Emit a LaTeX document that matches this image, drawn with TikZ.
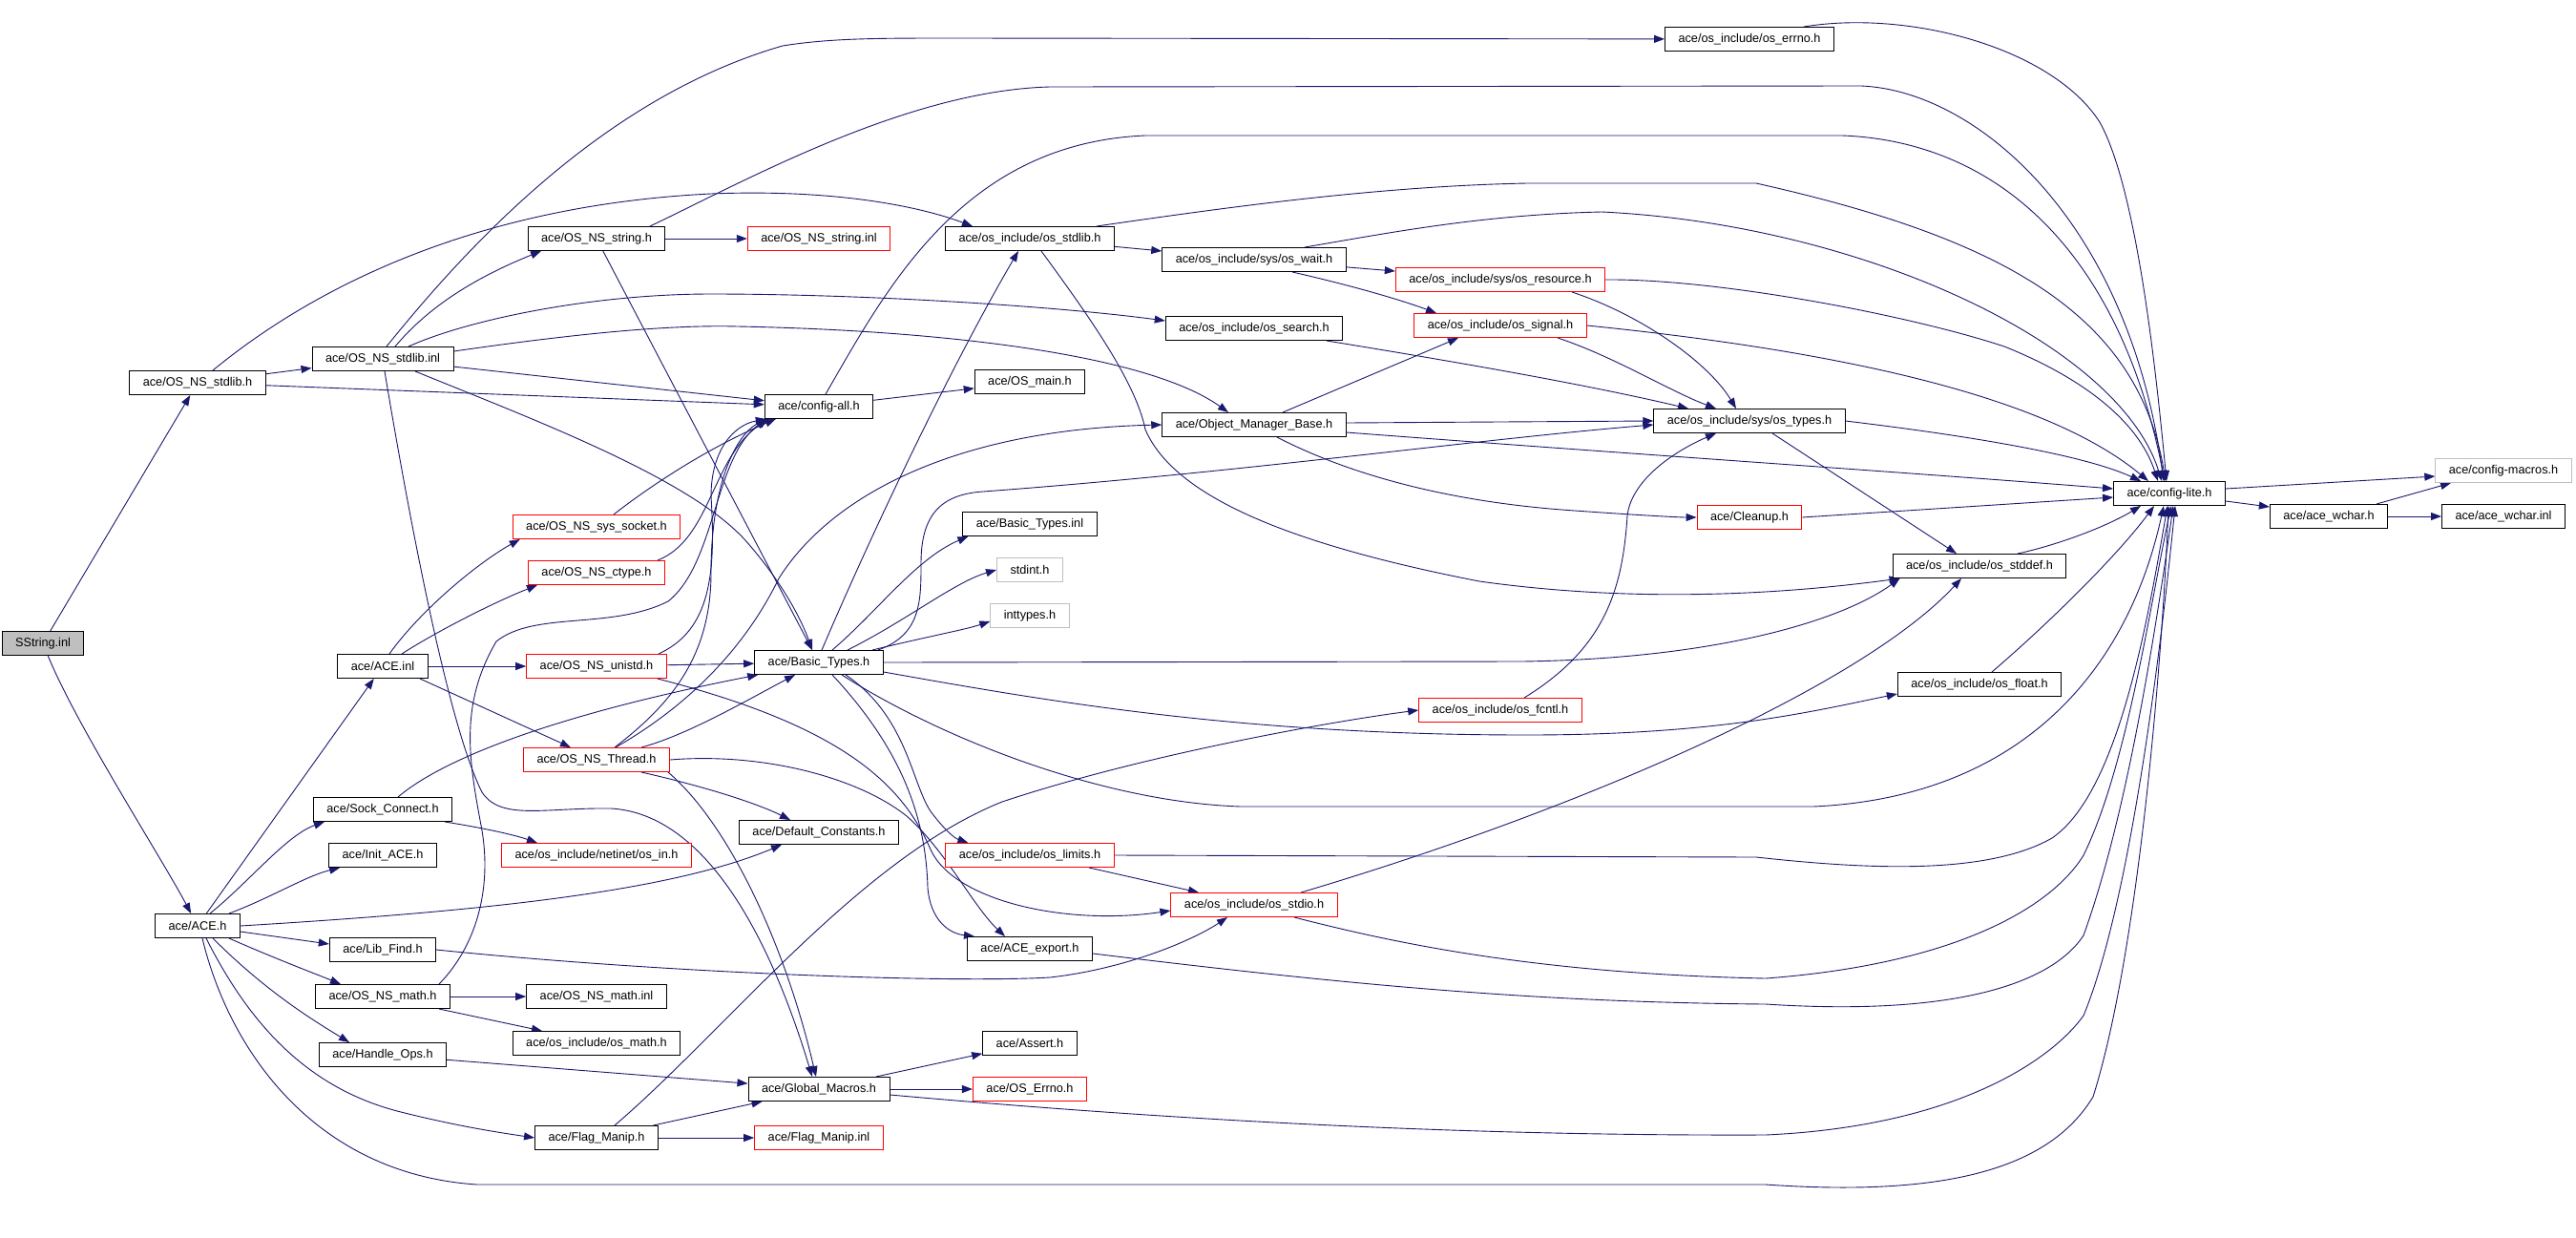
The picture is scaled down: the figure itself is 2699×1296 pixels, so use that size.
\documentclass[tikz,border=0pt]{standalone}
\usepackage{fontspec}
\setmainfont{Liberation Sans}
\usetikzlibrary{arrows.meta}
\definecolor{edgeblue}{RGB}{25,25,112}
\definecolor{boxgray}{RGB}{191,191,191}
\pgfdeclarelayer{bglayer}
\pgfdeclarelayer{edgelayer}
\pgfsetlayers{bglayer,edgelayer,main}
\tikzset{
  e/.style={draw=edgeblue, line width=0.9pt, -{Triangle[length=11pt,width=8pt]}},
  box/.style={draw=black, fill=white, line width=1pt, minimum height=25pt, inner xsep=14pt, inner ysep=0pt,
    font=\fontsize{12.7pt}{15pt}\selectfont, text=black},
  redbox/.style={box, draw=red},
  graybox/.style={box, draw=boxgray},
  rootbox/.style={box, fill=boxgray},
}
\begin{document}
\begin{tikzpicture}[x=1pt,y=-1pt]
\useasboundingbox (0,0) rectangle (2699,1296);
\begin{pgfonlayer}{bglayer}
\fill[white] (0,0) rectangle (2699,1296);
\end{pgfonlayer}
% rank 0-2
\node[rootbox] (sstr) at (45,674) {SString.inl};
\node[box] (stdlibh) at (207,401) {ace/OS\_NS\_stdlib.h};
\node[box] (aceh) at (207,970) {ace/ACE.h};
\node[box] (stdlibinl) at (401,376) {ace/OS\_NS\_stdlib.inl};
\node[box] (aceinl) at (401,698) {ace/ACE.inl};
\node[box] (sock) at (401,848) {ace/Sock\_Connect.h};
\node[box] (init) at (401,896) {ace/Init\_ACE.h};
\node[box] (libfind) at (401,995) {ace/Lib\_Find.h};
\node[box] (nsmath) at (401,1044) {ace/OS\_NS\_math.h};
\node[box] (handle) at (401,1105) {ace/Handle\_Ops.h};
% rank 3
\node[box] (nsstring) at (625,250) {ace/OS\_NS\_string.h};
\node[redbox] (socket) at (625,552) {ace/OS\_NS\_sys\_socket.h};
\node[redbox] (ctype) at (625,600) {ace/OS\_NS\_ctype.h};
\node[redbox] (unistd) at (625,698) {ace/OS\_NS\_unistd.h};
\node[redbox] (thread) at (625,796) {ace/OS\_NS\_Thread.h};
\node[redbox] (osin) at (625,896) {ace/os\_include/netinet/os\_in.h};
\node[box] (mathinl) at (625,1044) {ace/OS\_NS\_math.inl};
\node[box] (osmath) at (625,1093) {ace/os\_include/os\_math.h};
\node[box] (flag) at (625,1192) {ace/Flag\_Manip.h};
% rank 4
\node[redbox] (stringinl) at (858,250) {ace/OS\_NS\_string.inl};
\node[box] (configall) at (858,426) {ace/config-all.h};
\node[box] (basic) at (858,694) {ace/Basic\_Types.h};
\node[box] (defconst) at (858,872) {ace/Default\_Constants.h};
\node[box] (global) at (858,1141) {ace/Global\_Macros.h};
\node[redbox] (flaginl) at (858,1192) {ace/Flag\_Manip.inl};
% rank 5
\node[box] (osstdlib) at (1079,250) {ace/os\_include/os\_stdlib.h};
\node[box] (osmain) at (1079,400) {ace/OS\_main.h};
\node[box] (basicinl) at (1079,549) {ace/Basic\_Types.inl};
\node[graybox] (stdint) at (1079,597) {stdint.h};
\node[graybox] (inttypes) at (1079,645) {inttypes.h};
\node[redbox] (limits) at (1079,896) {ace/os\_include/os\_limits.h};
\node[box] (export) at (1079,994) {ace/ACE\_export.h};
\node[box] (assert) at (1079,1093) {ace/Assert.h};
\node[redbox] (oserrno) at (1079,1141) {ace/OS\_Errno.h};
% rank 6
\node[box] (wait) at (1314,272) {ace/os\_include/sys/os\_wait.h};
\node[box] (search) at (1314,344) {ace/os\_include/os\_search.h};
\node[box] (omb) at (1314,445) {ace/Object\_Manager\_Base.h};
\node[redbox] (stdio) at (1314,948) {ace/os\_include/os\_stdio.h};
% rank 7
\node[redbox] (resource) at (1572,293) {ace/os\_include/sys/os\_resource.h};
\node[redbox] (signal) at (1572,341) {ace/os\_include/os\_signal.h};
\node[redbox] (fcntl) at (1572,744) {ace/os\_include/os\_fcntl.h};
% rank 8
\node[box] (errnoh) at (1833,41) {ace/os\_include/os\_errno.h};
\node[box] (types) at (1833,441) {ace/os\_include/sys/os\_types.h};
\node[redbox] (cleanup) at (1833,542) {ace/Cleanup.h};
% rank 9+
\node[box] (stddef) at (2074,593) {ace/os\_include/os\_stddef.h};
\node[box] (floath) at (2074,717) {ace/os\_include/os\_float.h};
\node[box] (lite) at (2273,517) {ace/config-lite.h};
\node[box] (wchar) at (2440,541) {ace/ace\_wchar.h};
\node[graybox] (macros) at (2623,493) {ace/config-macros.h};
\node[box] (wcharinl) at (2623,541) {ace/ace\_wchar.inl};

\begin{pgfonlayer}{edgelayer}
% SString.inl
\draw[e] (sstr) -- (stdlibh);
\draw[e] (sstr) .. controls (80,760) and (170,900) .. (aceh);
% OS_NS_stdlib.h
\draw[e] (stdlibh) -- (stdlibinl);
\draw[e] ([xshift=16pt]stdlibh.north) .. controls (330,300) and (500,215) .. (745,203) .. controls (870,198) and (960,215) .. ([xshift=-60pt]osstdlib.north);
\draw[e] (stdlibh) -- (configall);
% OS_NS_stdlib.inl
\draw[e] ([xshift=4pt]stdlibinl.north) .. controls (500,245) and (640,100) .. (820,48) .. controls (870,40) and (920,40) .. (1000,40) -- (errnoh);
\draw[e] ([xshift=13pt]stdlibinl.north) .. controls (450,320) and (500,290) .. ([xshift=-58pt]nsstring.south);
\draw[e] ([xshift=27pt]stdlibinl.north) .. controls (490,335) and (620,308) .. (745,308) .. controls (900,308) and (1100,320) .. ([yshift=8pt]search.west);
\draw[e] ([yshift=8pt]stdlibinl.east) .. controls (600,350) and (700,340) .. (773,342) .. controls (980,346) and (1200,370) .. ([xshift=-27pt]omb.north);
\draw[e] (stdlibinl) -- (configall);
\draw[e] ([xshift=34pt]stdlibinl.south) .. controls (560,440) and (720,500) .. (780,565) .. controls (820,610) and (840,650) .. ([xshift=-7pt]basic.north);
\draw[e] ([xshift=2pt]stdlibinl.south) .. controls (430,550) and (470,760) .. (505,830) .. controls (525,860) and (570,846) .. (640,847) .. controls (730,852) and (800,960) .. ([xshift=-7pt]global.north);
% OS_NS_string.h
\draw[e] (nsstring) -- (stringinl);
\draw[e] (nsstring) -- ([xshift=-7pt]basic.north);
\draw[e] ([xshift=56pt]nsstring.north) .. controls (780,190) and (950,95) .. (1100,91) -- (1950,90) .. controls (2070,95) and (2230,230) .. ([xshift=-6pt]lite.north);
% config-all.h
\draw[e] (configall) -- (osmain);
\draw[e] ([xshift=7pt]configall.north) .. controls (930,300) and (1010,150) .. (1200,142) -- (1930,142) .. controls (2090,148) and (2220,260) .. ([xshift=-5pt]lite.north);
% os_stdlib.h
\draw[e] (osstdlib) -- (wait);
\draw[e] ([xshift=70pt]osstdlib.north) .. controls (1300,215) and (1450,195) .. (1600,192) -- (1840,192) .. controls (2100,250) and (2240,330) .. ([xshift=-4pt]lite.north);
\draw[e] ([xshift=12pt]osstdlib.south) .. controls (1140,330) and (1190,400) .. (1200,450) .. controls (1230,520) and (1350,570) .. (1550,609) .. controls (1700,630) and (1850,625) .. ([xshift=8pt]stddef.south west);
% os_wait.h
\draw[e] (wait) -- (resource);
\draw[e] ([xshift=40pt]wait.south) .. controls (1420,300) and (1470,315) .. ([xshift=-67pt]signal.north);
\draw[e] ([xshift=53pt]wait.north) .. controls (1450,245) and (1550,225) .. (1678,222) .. controls (1950,235) and (2220,360) .. ([xshift=-8pt]lite.north);
% os_resource.h
\draw[e] (resource.east) .. controls (1800,292) and (2000,330) .. (2100,363) .. controls (2180,395) and (2240,440) .. ([xshift=-12pt]lite.north);
\draw[e] ([xshift=75pt]resource.south) .. controls (1720,330) and (1790,380) .. ([xshift=-14pt]types.north);
% os_signal.h
\draw[e] (signal.east) .. controls (1950,370) and (2150,420) .. ([xshift=-22pt]lite.north);
\draw[e] ([xshift=60pt]signal.south) .. controls (1690,373) and (1750,410) .. ([xshift=-35pt]types.north);
% os_search.h
\draw[e] ([xshift=76pt]search.south) .. controls (1500,375) and (1650,400) .. ([xshift=-64pt]types.north);
% Object_Manager_Base.h
\draw[e] ([xshift=30pt]omb.north) -- ([xshift=-44pt]signal.south);
\draw[e] ([yshift=2pt]omb.east) -- (types.west);
\draw[e] ([yshift=-8pt]omb.east) .. controls (1700,475) and (2000,495) .. ([yshift=5pt]lite.west);
\draw[e] ([xshift=24pt]omb.south) .. controls (1400,490) and (1500,525) .. (1650,535) .. controls (1720,540) and (1760,542) .. (cleanup.west);
% Cleanup.h
\draw[e] (cleanup.east) -- ([yshift=-4pt]lite.west);
% os_types.h
\draw[e] ([xshift=24pt]types.south) -- ([xshift=-24pt]stddef.north);
\draw[e] (types.east) .. controls (2050,455) and (2180,475) .. ([xshift=-30pt]lite.north);
% os_errno.h
\draw[e] ([xshift=57pt]errnoh.north) .. controls (2000,10) and (2150,50) .. (2200,128) .. controls (2240,200) and (2260,400) .. ([xshift=-3pt]lite.north);
% os_stddef.h, os_float.h
\draw[e] ([xshift=40pt]stddef.north) .. controls (2160,570) and (2210,550) .. ([xshift=-30pt]lite.south);
\draw[e] ([xshift=13pt]floath.north) .. controls (2150,650) and (2220,580) .. ([xshift=-16pt]lite.south);
% Basic_Types.h
\draw[e] ([xshift=3pt]basic.north) .. controls (930,520) and (1010,360) .. ([xshift=-12pt]osstdlib.south);
\draw[e] ([xshift=14pt]basic.north) .. controls (920,640) and (960,585) .. ([xshift=6pt]basicinl.south west);
\draw[e] ([xshift=30pt]basic.north) .. controls (950,650) and (1000,610) .. (stdint.west);
\draw[e] ([xshift=56pt]basic.north) .. controls (980,665) and (1010,660) .. ([yshift=-6pt]inttypes.west);
\draw[e] ([xshift=62pt]basic.north) .. controls (965,665) and (965,630) .. (965,590) .. controls (965,540) and (985,518) .. (1030,515) .. controls (1300,495) and (1550,460) .. ([yshift=-4pt]types.west);
\draw[e] (basic.east) -- (1595,693) .. controls (1800,690) and (1930,650) .. ([xshift=8pt]stddef.south west);
\draw[e] ([yshift=-10pt]basic.east) .. controls (1100,735) and (1300,770) .. (1600,770) .. controls (1800,770) and (1900,745) .. ([yshift=-10pt]floath.west);
\draw[e] ([xshift=24pt]basic.south) .. controls (980,770) and (1150,840) .. (1300,845) -- (1900,845) .. controls (2120,835) and (2230,700) .. ([xshift=-6pt]lite.south);
\draw[e] ([xshift=28pt]basic.south) .. controls (950,750) and (955,820) .. (975,850) .. controls (990,870) and (1000,878) .. ([xshift=24pt]limits.north west);
\draw[e] ([xshift=14pt]basic.south) .. controls (940,780) and (970,850) .. (972,930) .. controls (975,965) and (995,978) .. ([xshift=8pt]export.north west);
% os_limits.h
\draw[e] ([xshift=62pt]limits.south) -- ([xshift=-58pt]stdio.north);
\draw[e] (limits.east) -- (1840,898) .. controls (1950,910) and (2080,918) .. (2150,878) .. controls (2220,830) and (2250,650) .. ([xshift=-2pt]lite.south);
% os_stdio.h
\draw[e] ([xshift=49pt]stdio.north) .. controls (1650,850) and (1950,720) .. ([xshift=-19pt]stddef.south);
\draw[e] ([xshift=42pt]stdio.south) .. controls (1450,985) and (1600,1020) .. (1850,1025) .. controls (2050,1010) and (2150,950) .. (2183,896) .. controls (2230,800) and (2255,620) .. ([xshift=2pt]lite.south);
% ACE_export.h
\draw[e] ([yshift=-5pt]export.east) .. controls (1400,1030) and (1600,1050) .. (1850,1052) .. controls (2050,1065) and (2150,1030) .. (2183,980) .. controls (2230,850) and (2260,650) .. ([xshift=4pt]lite.south);
% Global_Macros.h
\draw[e] (global) -- (assert);
\draw[e] (global) -- (oserrno);
\draw[e] ([yshift=-6pt]global.east) .. controls (1300,1180) and (1600,1190) .. (1850,1189) .. controls (2050,1180) and (2150,1110) .. (2183,1064) .. controls (2230,950) and (2262,700) .. ([xshift=6pt]lite.south);
% ACE.h -> config-lite.h
\draw[e] ([xshift=5pt]aceh.south) .. controls (240,1100) and (330,1230) .. (500,1241) -- (1850,1241) .. controls (2050,1255) and (2150,1220) .. (2193,1149) .. controls (2240,1000) and (2265,700) .. ([xshift=-1pt]lite.south);
% os_fcntl.h
\draw[e] ([xshift=25pt]fcntl.north) .. controls (1680,680) and (1700,620) .. (1705,540) .. controls (1710,500) and (1760,470) .. ([xshift=-35pt]types.south);
% OS_NS_unistd.h
\draw[e] (unistd) -- (basic);
\draw[e] ([xshift=65pt]unistd.north) .. controls (745,660) and (750,600) .. (745,520) .. controls (745,470) and (770,445) .. ([xshift=2pt]configall.south west);
\draw[e] ([xshift=-10pt]unistd.south east) .. controls (880,760) and (945,820) .. (975,890) .. controls (1000,945) and (1120,970) .. ([yshift=-6pt]stdio.west);
% OS_NS_Thread.h
\draw[e] ([xshift=19pt]thread.north) .. controls (700,740) and (745,690) .. (745,600) .. controls (745,500) and (775,450) .. ([xshift=6pt]configall.south west);
\draw[e] ([xshift=20pt]thread.north) .. controls (720,740) and (780,680) .. (816,606) .. controls (870,520) and (1000,450) .. (omb.west);
\draw[e] ([xshift=47pt]thread.north) .. controls (720,770) and (780,735) .. ([xshift=-25pt]basic.south);
\draw[e] ([xshift=47pt]thread.south) .. controls (730,822) and (790,840) .. ([xshift=-30pt]defconst.north);
\draw[e] ([xshift=75pt]thread.south) .. controls (760,860) and (820,980) .. ([xshift=-3pt]global.north);
\draw[e] (thread.east) .. controls (800,788) and (900,815) .. (950,855) .. controls (990,890) and (1020,950) .. ([xshift=-26pt]export.north);
% ACE.inl
\draw[e] (aceinl) -- (unistd);
\draw[e] ([xshift=7pt]aceinl.north) .. controls (440,640) and (500,590) .. ([xshift=8pt]socket.south west);
\draw[e] ([xshift=20pt]aceinl.north) .. controls (460,660) and (520,630) .. ([xshift=10pt]ctype.south west);
\draw[e] ([xshift=39pt]aceinl.south) -- ([xshift=-27pt]thread.north);
% sys_socket, ctype
\draw[e] ([xshift=18pt]socket.north) .. controls (680,510) and (740,470) .. ([xshift=12pt]configall.south west);
\draw[e] ([xshift=-8pt]ctype.north east) .. controls (745,565) and (745,480) .. ([xshift=4pt]configall.south west);
% OS_NS_math.h
\draw[e] ([xshift=59pt]nsmath.north) .. controls (500,990) and (515,930) .. (505,870) .. controls (492,800) and (480,740) .. (520,672) .. controls (560,640) and (640,660) .. (700,630) .. controls (750,590) and (748,480) .. ([xshift=2pt]configall.south west);
\draw[e] (nsmath) -- (mathinl);
\draw[e] ([xshift=-12pt]nsmath.south east) -- ([xshift=-57pt]osmath.north);
% Sock_Connect.h
\draw[e] ([xshift=16pt]sock.north) .. controls (470,790) and (600,745) .. ([xshift=4pt]basic.south west);
\draw[e] ([xshift=-8pt]sock.south east) .. controls (510,868) and (540,875) .. ([xshift=-62pt]osin.north);
% ACE.h
\draw[e] (aceh) -- (aceinl);
\draw[e] ([xshift=13pt]aceh.north) .. controls (260,925) and (300,875) .. ([xshift=12pt]sock.south west);
\draw[e] ([xshift=33pt]aceh.north) .. controls (285,940) and (320,918) .. ([xshift=12pt]init.south west);
\draw[e] (aceh.east) .. controls (500,955) and (700,935) .. ([xshift=-39pt]defconst.south);
\draw[e] ([yshift=-6pt]aceh.east) -- ([yshift=6pt]libfind.west);
\draw[e] ([xshift=33pt]aceh.south) .. controls (290,1005) and (330,1020) .. ([xshift=-44pt]nsmath.north);
\draw[e] ([xshift=16pt]aceh.south) .. controls (280,1040) and (330,1070) .. ([xshift=-35pt]handle.north);
\draw[e] ([xshift=9pt]aceh.south) .. controls (260,1070) and (320,1140) .. (420,1165) .. controls (480,1180) and (520,1186) .. (flag.west);
% Lib_Find, Handle_Ops, Flag_Manip
\draw[e] (libfind.east) .. controls (700,1020) and (1000,1030) .. (1100,1024) .. controls (1180,1015) and (1250,985) .. ([xshift=-28pt]stdio.south);
\draw[e] (handle) -- (global);
\draw[e] (flag) -- (global);
\draw[e] (flag) -- (flaginl);
\draw[e] ([xshift=19pt]flag.north) .. controls (760,1080) and (900,900) .. (1050,840) .. controls (1200,790) and (1400,755) .. (fcntl.west);
% config-lite.h and ace_wchar.h
\draw[e] ([yshift=5pt]lite.east) -- ([yshift=-6pt]macros.west);
\draw[e] ([yshift=-8pt]lite.east) -- ([yshift=10pt]wchar.west);
\draw[e] ([xshift=50pt]wchar.north) -- ([xshift=-55pt]macros.south);
\draw[e] (wchar) -- (wcharinl);
\end{pgfonlayer}
\end{tikzpicture}
\end{document}
